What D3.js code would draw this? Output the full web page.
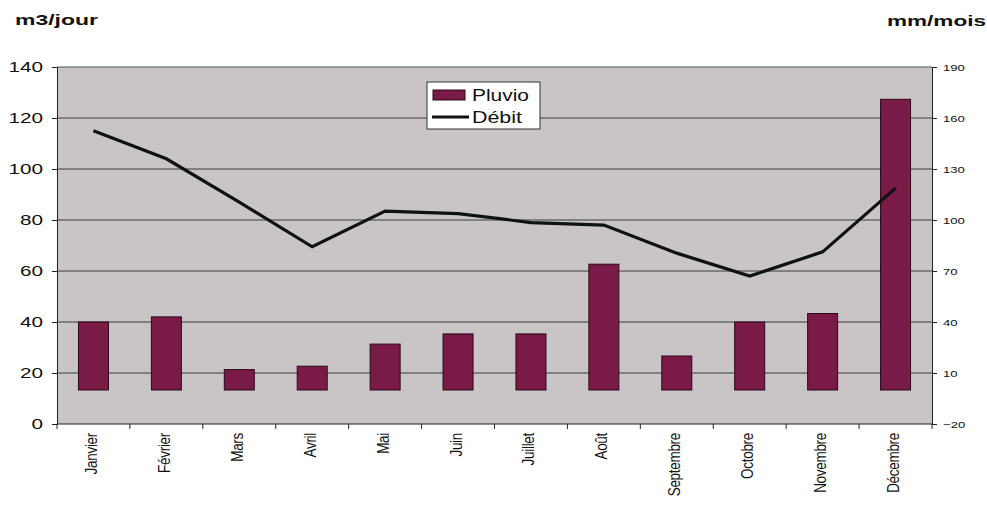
<!DOCTYPE html>
<html>
<head>
<meta charset="utf-8">
<script src="https://cdn.jsdelivr.net/npm/d3@7"></script>
<style>
  html, body { margin: 0; padding: 0; background: #fff; }
  svg { display: block; font-family: "Liberation Sans", Arial, sans-serif; }
</style>
</head>
<body>
<svg id="chart" width="987" height="506"></svg>
<script>
// Monthly rainfall (mm/mois, right axis) and flow (m3/jour, left axis)
const months = ["Janvier", "Février", "Mars", "Avril", "Mai", "Juin", "Juillet",
                "Août", "Septembre", "Octobre", "Novembre", "Décembre"];
const pluvio = [40, 43, 12, 14, 27, 33, 33, 74, 20, 40, 45, 171];
const debit  = [115, 104, 87, 69.5, 83.5, 82.5, 79, 78, 67, 58, 67.5, 92.5];

const leftTicks  = [0, 20, 40, 60, 80, 100, 120, 140];
const rightTicks = [-20, 10, 40, 70, 100, 130, 160, 190];

const svg = d3.select("#chart");
const plot = { left: 57, right: 932, top: 67, bottom: 424 };
const FONT = "'Liberation Sans', Arial, sans-serif";

// Widen glyphs horizontally by a factor, keeping the anchor
function widen(sel, f) {
  sel.each(function () {
    const len = this.getComputedTextLength();
    d3.select(this).attr("textLength", len * f).attr("lengthAdjust", "spacingAndGlyphs");
  });
}

const x = d3.scaleBand().domain(months).range([plot.left, plot.right]).paddingInner(0).paddingOuter(0);
const yL = d3.scaleLinear().domain([0, 140]).range([plot.bottom, plot.top]);
const yR = d3.scaleLinear().domain([-20, 190]).range([plot.bottom, plot.top]);

// Plot area background
svg.append("rect")
  .attr("x", plot.left).attr("y", plot.top)
  .attr("width", plot.right - plot.left).attr("height", plot.bottom - plot.top)
  .attr("fill", "#c9c5c7");

// Horizontal gridlines
svg.append("g").selectAll("line")
  .data(leftTicks.filter(d => d > 0))
  .join("line")
  .attr("x1", plot.left).attr("x2", plot.right)
  .attr("y1", d => yL(d)).attr("y2", d => yL(d))
  .attr("stroke", d => d === 140 ? "#555" : "#3a3a3a")
  .attr("stroke-width", 1);

// Pluvio bars (right axis), drawn from 0 mm
const barW = 30;
svg.append("g").selectAll("rect")
  .data(months.map((m, i) => ({ m, v: pluvio[i] })))
  .join("rect")
  .attr("x", d => x(d.m) + x.bandwidth() / 2 - barW / 2)
  .attr("width", barW)
  .attr("y", d => yR(d.v))
  .attr("height", d => yR(0) - yR(d.v))
  .attr("fill", "#7a1a46")
  .attr("stroke", "#2a0a18")
  .attr("stroke-width", 1);

// Débit line (left axis)
const line = d3.line()
  .x((d, i) => x(months[i]) + x.bandwidth() / 2)
  .y(d => yL(d));
svg.append("path")
  .datum(debit)
  .attr("d", line)
  .attr("fill", "none")
  .attr("stroke", "#111")
  .attr("stroke-width", 3.2)
  .attr("stroke-linejoin", "miter");

// Left axis
const axL = svg.append("g")
  .attr("transform", `translate(${plot.left},0)`)
  .call(d3.axisLeft(yL).tickValues(leftTicks).tickSize(5).tickPadding(9));
axL.select(".domain").attr("stroke", "#222");
axL.selectAll(".tick line").attr("stroke", "#222");
axL.selectAll("text").attr("font-size", 15).attr("fill", "#111").attr("font-family", FONT);
widen(axL.selectAll("text"), 1.38);

// Right axis
const axR = svg.append("g")
  .attr("transform", `translate(${plot.right},0)`)
  .call(d3.axisRight(yR).tickValues(rightTicks).tickSize(5).tickPadding(6));
axR.select(".domain").attr("stroke", "#222");
axR.selectAll(".tick line").attr("stroke", "#222");
axR.selectAll("text").attr("font-size", 9.5).attr("fill", "#111").attr("font-family", FONT);
widen(axR.selectAll("text"), 1.38);

// Bottom axis: ticks on category boundaries, rotated month labels
const axB = svg.append("g").attr("transform", `translate(0,${plot.bottom})`);
axB.append("line")
  .attr("x1", plot.left).attr("x2", plot.right)
  .attr("y1", 0).attr("y2", 0)
  .attr("stroke", "#222");
axB.selectAll("line.tk")
  .data(d3.range(months.length + 1))
  .join("line")
  .attr("class", "tk")
  .attr("x1", i => plot.left + i * x.bandwidth())
  .attr("x2", i => plot.left + i * x.bandwidth())
  .attr("y1", 0).attr("y2", 5)
  .attr("stroke", "#222");
axB.selectAll("text")
  .data(months)
  .join("text")
  .attr("transform", d => `translate(${x(d) + x.bandwidth() / 2 + 3.5},9) rotate(-90) scale(1,1.2)`)
  .attr("text-anchor", "end")
  .attr("font-size", 13.5)
  .attr("fill", "#111")
  .attr("font-family", FONT)
  .attr("letter-spacing", -0.3)
  .text(d => d);

// Axis titles
svg.append("text")
  .attr("x", 15).attr("y", 25)
  .attr("font-size", 15).attr("font-weight", "bold").attr("fill", "#111")
  .attr("textLength", 83).attr("lengthAdjust", "spacingAndGlyphs")
  .text("m3/jour");
svg.append("text")
  .attr("x", 986).attr("y", 26)
  .attr("text-anchor", "end")
  .attr("font-size", 15).attr("font-weight", "bold").attr("fill", "#111")
  .attr("textLength", 99).attr("lengthAdjust", "spacingAndGlyphs")
  .text("mm/mois");

// Legend
const lg = svg.append("g").attr("transform", "translate(427,82)");
lg.append("rect")
  .attr("width", 113).attr("height", 47)
  .attr("fill", "#fff").attr("stroke", "#333").attr("stroke-width", 1);
lg.append("rect")
  .attr("x", 6).attr("y", 8).attr("width", 32).attr("height", 10)
  .attr("fill", "#7a1a46").attr("stroke", "#2a0a18");
lg.append("line")
  .attr("x1", 5).attr("x2", 42).attr("y1", 35).attr("y2", 35)
  .attr("stroke", "#111").attr("stroke-width", 3.2);
lg.append("text").attr("x", 45).attr("y", 19)
  .attr("font-size", 16).attr("fill", "#111")
  .attr("textLength", 57).attr("lengthAdjust", "spacingAndGlyphs")
  .text("Pluvio");
lg.append("text").attr("x", 45).attr("y", 41)
  .attr("font-size", 16).attr("fill", "#111")
  .attr("textLength", 50).attr("lengthAdjust", "spacingAndGlyphs")
  .text("Débit");
</script>
</body>
</html>
